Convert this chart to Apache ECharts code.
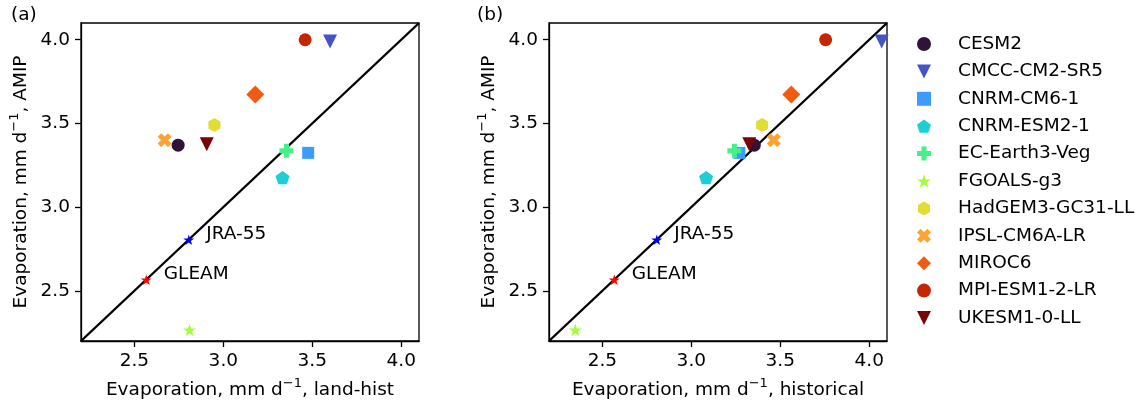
<!DOCTYPE html>
<html>
<head>
<meta charset="utf-8">
<script src="https://cdn.jsdelivr.net/npm/echarts@6/dist/echarts.min.js"></script>
<style>
  html, body { margin: 0; padding: 0; background: #fff; }
  #chart { width: 1142px; height: 403px; }
</style>
</head>
<body>
<div id="chart"></div>
<script>
// model names, read left to right from the legend
const models = ['CESM2', 'CMCC-CM2-SR5', 'CNRM-CM6-1', 'CNRM-ESM2-1', 'EC-Earth3-Veg', 'FGOALS-g3',
  'HadGEM3-GC31-LL', 'IPSL-CM6A-LR', 'MIROC6', 'MPI-ESM1-2-LR', 'UKESM1-0-LL']
// x of panel (a): land-hist
const landHist = [2.746, 3.60, 3.477, 3.333, 3.355, 2.81, 2.95, 2.67, 3.18, 3.46, 2.907]
// x of panel (b): historical
const historical = [3.354, 4.07, 3.27, 3.083, 3.242, 2.348, 3.398, 3.464, 3.562, 3.755, 3.326]
// y of both panels: AMIP
const amip = [3.37, 3.99, 3.324, 3.176, 3.336, 2.266, 3.491, 3.40, 3.673, 4.0, 3.376]
// observation based estimates
const obsNames = ['JRA-55', 'GLEAM']
const obsX = [2.806, 2.567]
const obsY = [2.805, 2.566]
// axis range, 1:1 line, tick labels
const axisRange = [2.2, 4.1]
const tickValues = [2.5, 3.0, 3.5, 4.0]

const colors = ['#30123b', '#4454c4', '#3e9bfe', '#1bcfd4', '#46f088', '#a4fc3c',
  '#e1dd37', '#fea331', '#f05b12', '#c42503', '#7a0403']
const obsColors = ['#0000ff', '#ff0000']

const STAR = 'path://M0,-1 L0.2245,-0.309 L0.951,-0.309 L0.363,0.118 L0.588,0.809 L0,0.382 L-0.588,0.809 L-0.363,0.118 L-0.951,-0.309 L-0.2245,-0.309 Z'
const TRI_DOWN = 'path://M-1,-1 L1,-1 L0,1 Z'
const PENTAGON = 'path://M0,-1 L0.951,-0.309 L0.588,0.809 L-0.588,0.809 L-0.951,-0.309 Z'
const HEXAGON = 'path://M0,-1 L0.866,-0.5 L0.866,0.5 L0,1 L-0.866,0.5 L-0.866,-0.5 Z'
const PLUS = 'path://M-1,-0.36 L-0.36,-0.36 L-0.36,-1 L0.36,-1 L0.36,-0.36 L1,-0.36 L1,0.36 L0.36,0.36 L0.36,1 L-0.36,1 L-0.36,0.36 L-1,0.36 Z'
const CROSS = 'path://M-0.46,-0.955 L0,-0.495 L0.46,-0.955 L0.955,-0.46 L0.495,0 L0.955,0.46 L0.46,0.955 L0,0.495 L-0.46,0.955 L-0.955,0.46 L-0.495,0 L-0.955,-0.46 Z'
const symbols = ['circle', TRI_DOWN, 'rect', PENTAGON, PLUS, STAR, HEXAGON, CROSS, 'diamond', 'circle', TRI_DOWN]
const sizes = [13, 14, 12, 14, 14, 13, 14, 14, 18, 13, 14]

const FONT = 'DejaVu Sans'
const FS = 18.5
const grids = [
  { left: 81, top: 23, width: 338, height: 318 },
  { left: 549, top: 23, width: 338, height: 318 }
]

function axis(name, gridIndex, nameGap) {
  return {
    type: 'value',
    gridIndex,
    min: axisRange[0],
    max: axisRange[1],
    name,
    nameLocation: 'middle',
    nameGap,
    nameTextStyle: {
      fontFamily: FONT,
      fontSize: FS,
      color: '#000',
      rich: {
        t: { fontFamily: FONT, fontSize: FS, color: '#000', lineHeight: 23, verticalAlign: 'bottom' },
        sup: { fontFamily: FONT, fontSize: 13, color: '#000', lineHeight: 23, verticalAlign: 'top' }
      }
    },
    axisLine: { show: true, lineStyle: { color: '#000', width: 1.3 } },
    axisTick: { show: true, length: 6, lineStyle: { color: '#000', width: 1.3 }, customValues: tickValues },
    axisLabel: {
      fontFamily: FONT,
      fontSize: FS,
      color: '#000',
      margin: 11,
      customValues: tickValues,
      formatter: v => v.toFixed(1)
    },
    splitLine: { show: false }
  }
}

function axisName(text) {
  return '{t|Evaporation, mm d}{sup|−1}{t|, ' + text + '}'
}

const series = []
const panelX = [landHist, historical]
panelX.forEach((xs, p) => {
  // 1:1 line
  series.push({
    type: 'line',
    xAxisIndex: p,
    yAxisIndex: p,
    data: [[axisRange[0], axisRange[0]], [axisRange[1], axisRange[1]]],
    symbol: 'none',
    silent: true,
    z: 1,
    lineStyle: { color: '#000', width: 2.4 }
  })
  models.forEach((m, i) => {
    series.push({
      name: m,
      type: 'scatter',
      xAxisIndex: p,
      yAxisIndex: p,
      symbol: symbols[i],
      symbolSize: sizes[i],
      symbolKeepAspect: true,
      itemStyle: { color: colors[i], opacity: 1 },
      z: 3,
      data: [[xs[i], amip[i]]]
    })
  })
  obsNames.forEach((o, i) => {
    series.push({
      type: 'scatter',
      xAxisIndex: p,
      yAxisIndex: p,
      symbol: STAR,
      symbolSize: 11,
      symbolKeepAspect: true,
      itemStyle: { color: obsColors[i], opacity: 1 },
      z: 4,
      label: {
        show: true,
        position: 'right',
        distance: 12,
        offset: [0, -6],
        formatter: o,
        fontFamily: FONT,
        fontSize: FS,
        color: '#000'
      },
      data: [[obsX[i], obsY[i]]]
    })
  })
})

const chart = echarts.init(document.getElementById('chart'), null, { renderer: 'canvas' })
chart.setOption({
  animation: false,
  backgroundColor: '#fff',
  textStyle: { fontFamily: FONT },
  grid: grids.map(g => Object.assign({
    show: true,
    borderColor: '#000',
    borderWidth: 1.3,
    backgroundColor: 'transparent',
    outerBoundsMode: 'none'
  }, g)),
  xAxis: [axis(axisName('land-hist'), 0, 36), axis(axisName('historical'), 1, 36)],
  yAxis: [axis(axisName('AMIP'), 0, 50), axis(axisName('AMIP'), 1, 50)],
  legend: {
    orient: 'vertical',
    left: 912,
    top: 29.5,
    itemWidth: 14,
    itemHeight: 14,
    itemGap: 8.4,
    data: models,
    textStyle: { fontFamily: FONT, fontSize: FS, lineHeight: 18, color: '#000', padding: [0, 0, 0, 22] }
  },
  graphic: [
    { type: 'text', left: 11, top: 6, style: { text: '(a)', font: FS + 'px "DejaVu Sans"', fill: '#000' } },
    { type: 'text', left: 477, top: 6, style: { text: '(b)', font: FS + 'px "DejaVu Sans"', fill: '#000' } }
  ],
  series
})
</script>
</body>
</html>
